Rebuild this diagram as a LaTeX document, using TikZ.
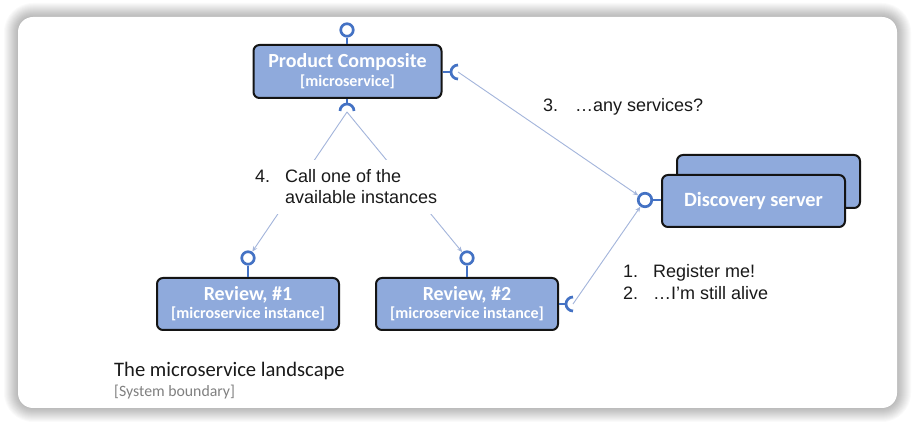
\documentclass[tikz,border=0pt]{standalone}
\usepackage{fontspec}
\setmainfont{Carlito}
\newfontfamily\arialf{Liberation Sans}
\usetikzlibrary{arrows.meta}
\definecolor{boxfill}{HTML}{8FAADC}
\definecolor{lolblue}{HTML}{4472C4}
\definecolor{connc}{HTML}{A3B5DB}
\definecolor{txtc}{HTML}{1A1A1A}
\begin{document}
\begin{tikzpicture}[x=1pt,y=1pt,
  comp/.style={draw=black!92, line width=2pt, fill=boxfill, rounded corners=6pt,
    text=white, align=center, inner sep=0pt, minimum width=182pt, minimum height=52pt},
  lolli/.style={circle, draw=lolblue, line width=2.7pt, fill=white, minimum size=12.5pt, inner sep=0pt},
  stem/.style={draw=lolblue, line width=2.7pt},
  connline/.style={draw=connc, line width=0.9pt, -{Stealth[length=5.5pt,width=4.5pt]}},
  lbl/.style={font=\arialf\fontsize{18}{21}\selectfont, text=txtc, align=left, inner sep=0pt}
]
\useasboundingbox (0,0) rectangle (916,-427);
\fill[white] (0,0) rectangle (916,-427);
% shadow
\foreach \d in {1,...,14} {
  \pgfmathsetmacro\rr{15+\d}
  \fill[black, opacity=0.018, rounded corners=\rr pt] (18-\d,-17+\d) rectangle (897+\d,-408-\d);
}
\fill[white, rounded corners=15pt] (18,-17) rectangle (897,-408);

% boxes
\node[comp, minimum width=188pt, minimum height=53pt, font=\fontsize{20}{19}\selectfont\bfseries]
  (pc) at (347.5,-71.5) {Product Composite\\{\fontsize{16}{19}\selectfont [microservice]}};
\node[comp, minimum width=183pt, minimum height=53pt] (discback) at (768.5,-181.5) {};
\node[comp, minimum width=183pt, minimum height=52pt, font=\fontsize{20.3}{24}\selectfont\bfseries]
  (disc) at (753.5,-201) {Discovery server};
\node[comp, font=\fontsize{20}{18}\selectfont\bfseries]
  (r1) at (248,-304) {Review, \#1\\{\fontsize{16}{18}\selectfont [microservice instance]}};
\node[comp, font=\fontsize{20}{18}\selectfont\bfseries]
  (r2) at (467,-304) {Review, \#2\\{\fontsize{16}{18}\selectfont [microservice instance]}};

% lollipops (provided interfaces)
\node[lolli] (pcT) at (347,-30) {};
\draw[stem] (pcT.south) -- (pc.north -| pcT.south);
\node[lolli, minimum size=13.5pt] (dC) at (645,-200) {};
\draw[stem] (dC.east) -- (disc.west |- dC.east);
\node[lolli] (r1C) at (248,-258) {};
\draw[stem] (r1C.south) -- (r1.north);
\node[lolli] (r2C) at (467,-258) {};
\draw[stem] (r2C.south) -- (r2.north);

% sockets (required interfaces)
\coordinate (pcS) at (458,-72);
\draw[stem] (pc.east |- pcS) -- (451,-72);
\draw[stem] (458,-65) arc[start angle=90,end angle=270,radius=7];
\coordinate (pcB) at (347,-112);
\draw[stem] (pc.south -| pcB) -- (347,-104);
\draw[stem] (354,-111) arc[start angle=0,end angle=180,radius=7];
\coordinate (r2S) at (573,-304);
\draw[stem] (r2.east |- r2S) -- (566,-304);
\draw[stem] (573,-297) arc[start angle=90,end angle=270,radius=7];

% connectors
\draw[connline] (pcS) -- (dC);
\draw[connline] (r2S) -- (dC);
\draw[connline] (pcB) -- (r1C);
\draw[connline] (pcB) -- (r2C);

% labels
\node[lbl, fill=white, anchor=west, minimum height=54pt] (lbl4) at (255,-187)
  {\makebox[30pt][l]{4.}Call one of the\\\hspace*{30pt}available instances};
\node[lbl, anchor=base west] (lbl3) at (543,-112) {\makebox[32pt][l]{3.}…any services?};
\node[lbl, anchor=base west] (lbl1) at (623,-278) {\makebox[30pt][l]{1.}Register me!};
\node[lbl, anchor=base west] (lbl2) at (623,-300) {\makebox[30pt][l]{2.}…I’m still alive};

% caption
\node[anchor=base west, inner sep=0pt, font=\fontsize{20.6}{24}\selectfont, text=txtc] (cap1) at (114,-377) {The microservice landscape};
\node[anchor=base west, inner sep=0pt, font=\fontsize{15.8}{18}\selectfont, text=black!50] (cap2) at (114,-397) {[System boundary]};
\end{tikzpicture}
\end{document}
